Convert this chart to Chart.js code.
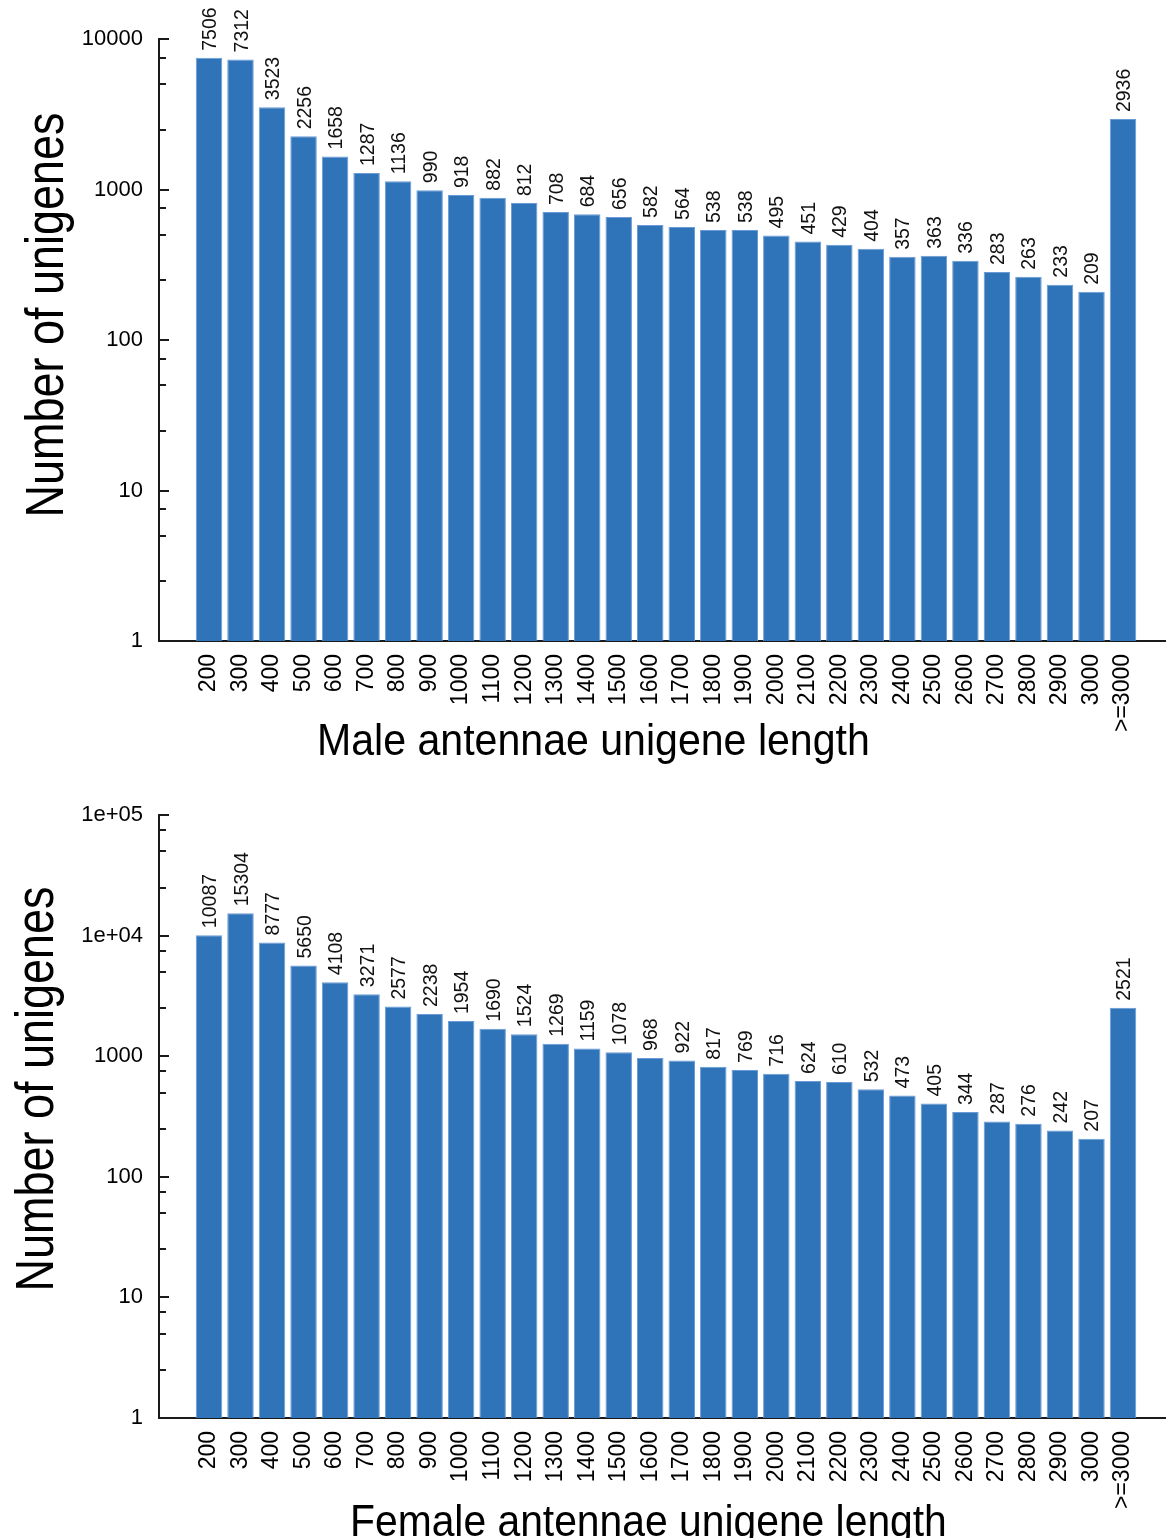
<!DOCTYPE html>
<html><head><meta charset="utf-8">
<script src="https://cdn.jsdelivr.net/npm/chart.js@4.4.1/dist/chart.umd.min.js"></script>
<style>
html,body{margin:0;padding:0;background:#fff;}
#wrap{position:relative;width:1166px;height:1538px;overflow:hidden;}
.box{position:absolute;left:0;width:1166px;}
</style></head><body>
<div id="wrap">
<div class="box" style="top:0;height:770px"><canvas id="male"></canvas></div>
<div class="box" style="top:770px;height:768px"><canvas id="female"></canvas></div>
</div>
<script>
const categories = ['200','300','400','500','600','700','800','900','1000','1100','1200','1300','1400','1500','1600','1700','1800','1900','2000','2100','2200','2300','2400','2500','2600','2700','2800','2900','3000','>=3000'];
const maleValues = [7506,7312,3523,2256,1658,1287,1136,990,918,882,812,708,684,656,582,564,538,538,495,451,429,404,357,363,336,283,263,233,209,2936];
const femaleValues = [10087,15304,8777,5650,4108,3271,2577,2238,1954,1690,1524,1269,1159,1078,968,922,817,769,716,624,610,532,473,405,344,287,276,242,207,2521];
const maleYTicks = [1,10,100,1000,10000];
const maleYTickLabels = ['1','10','100','1000','10000'];
const femaleYTicks = [1,10,100,1000,10000,100000];
const femaleYTickLabels = ['1','10','100','1000','1e+04','1e+05'];
const minorSteps = [2.5,5,7.5];
const yTitle = 'Number of unigenes';
const maleXTitle = 'Male antennae unigene length';
const femaleXTitle = 'Female antennae unigene length';

const FONT = '"Liberation Sans", Arial, Helvetica, sans-serif';
const BAR = '#2f73b9';
const BAR_EDGE = '#6a9bd6';

function allTicks(majors){
  const out = [];
  majors.forEach((m, i) => {
    out.push(m);
    if (i < majors.length - 1) minorSteps.forEach(s => out.push(m * s));
  });
  return out;
}

const decor = {
  id: 'decor',
  afterDatasetsDraw(chart, args, o) {
    const ctx = chart.ctx;
    const meta = chart.getDatasetMeta(0);
    ctx.save();
    ctx.fillStyle = '#111';
    ctx.font = '19.5px ' + FONT;
    ctx.textAlign = 'left';
    ctx.textBaseline = 'alphabetic';
    meta.data.forEach((bar, i) => {
      const v = chart.data.datasets[0].data[i].y;
      ctx.save();
      ctx.translate(bar.x + 7, bar.y - 7);
      ctx.rotate(-Math.PI / 2);
      ctx.fillText(String(v), 0, 0);
      ctx.restore();
    });
    ctx.restore();
  },
  afterDraw(chart, args, o) {
    const ctx = chart.ctx;
    const area = chart.chartArea;
    const y = chart.scales.y;
    ctx.save();
    ctx.strokeStyle = '#1a1a1a';
    ctx.lineWidth = 2;
    y.ticks.forEach(t => {
      const p = Math.round(y.getPixelForValue(t.value));
      const major = o.majors.includes(t.value);
      ctx.beginPath();
      ctx.moveTo(area.left, p);
      ctx.lineTo(area.left + (major ? 10 : 7), p);
      ctx.stroke();
    });
    ctx.fillStyle = '#000';
    ctx.textBaseline = 'alphabetic';
    ctx.font = o.yFont + 'px ' + FONT;
    ctx.save();
    ctx.translate(o.yTitleX, o.yTitleY);
    ctx.rotate(-Math.PI / 2);
    ctx.scale(o.yScale, 1);
    ctx.textAlign = 'center';
    ctx.fillText(yTitle, 0, 0);
    ctx.restore();
    ctx.font = o.xFont + 'px ' + FONT;
    ctx.save();
    ctx.translate(o.xTitleX, o.xTitleY);
    ctx.scale(o.xScale, 1);
    ctx.textAlign = 'left';
    ctx.fillText(o.xTitle, 0, 0);
    ctx.restore();
    ctx.restore();
  }
};

function makeChart(id, values, majors, majorLabels, g) {
  const data = values.map((v, i) => ({x: i, y: v}));
  return new Chart(document.getElementById(id), {
    type: 'bar',
    data: { datasets: [{
      data: data,
      backgroundColor: BAR,
      borderColor: BAR_EDGE,
      borderWidth: 1,
      barPercentage: 0.84,
      categoryPercentage: 1.0
    }]},
    options: {
      responsive: true,
      maintainAspectRatio: false,
      animation: false,
      devicePixelRatio: 1,
      layout: { padding: { top: g.top, right: 0, left: 0, bottom: 0 } },
      plugins: {
        legend: { display: false },
        tooltip: { enabled: false },
        decor: {
          majors: majors,
          yFont: g.yFont, yScale: g.yScale, yTitleX: g.yTitleX, yTitleY: g.yTitleY,
          xFont: g.xFont, xScale: g.xScale, xTitleX: g.xTitleX, xTitleY: g.xTitleY,
          xTitle: g.xTitle
        }
      },
      scales: {
        x: {
          type: 'linear',
          offset: false,
          min: -1.586,
          max: 30.364,
          grid: { display: false, drawTicks: false, offset: false },
          border: { display: true, color: '#1a1a1a', width: 2 },
          afterBuildTicks: s => { s.ticks = categories.map((c, i) => ({value: i})); },
          afterFit: s => { s.height = g.xHeight; },
          ticks: {
            autoSkip: false,
            minRotation: 90,
            maxRotation: 90,
            padding: 13,
            color: '#000',
            font: { family: FONT, size: 23 },
            callback: v => categories[v]
          }
        },
        y: {
          type: 'logarithmic',
          min: 1,
          max: majors[majors.length - 1],
          grid: { display: false, drawTicks: false },
          border: { display: true, color: '#1a1a1a', width: 2 },
          afterBuildTicks: s => { s.ticks = allTicks(majors).map(v => ({value: v})); },
          afterFit: s => { s.width = 159; },
          ticks: {
            autoSkip: false,
            padding: 16,
            color: '#000',
            font: { family: FONT, size: 22 },
            callback: v => {
              const k = majors.indexOf(v);
              return k >= 0 ? majorLabels[k] : '';
            }
          }
        }
      }
    },
    plugins: [decor]
  });
}

makeChart('male', maleValues, maleYTicks, maleYTickLabels, {
  top: 39, xHeight: 770 - 641,
  yFont: 54, yScale: 0.833, yTitleX: 63, yTitleY: 315,
  xFont: 45, xScale: 0.913, xTitleX: 317, xTitleY: 755,
  xTitle: maleXTitle
});
makeChart('female', femaleValues, femaleYTicks, femaleYTickLabels, {
  top: 45, xHeight: 768 - 648,
  yFont: 54, yScale: 0.833, yTitleX: 53, yTitleY: 319,
  xFont: 45, xScale: 0.907, xTitleX: 350, xTitleY: 766,
  xTitle: femaleXTitle
});
</script>
</body></html>
